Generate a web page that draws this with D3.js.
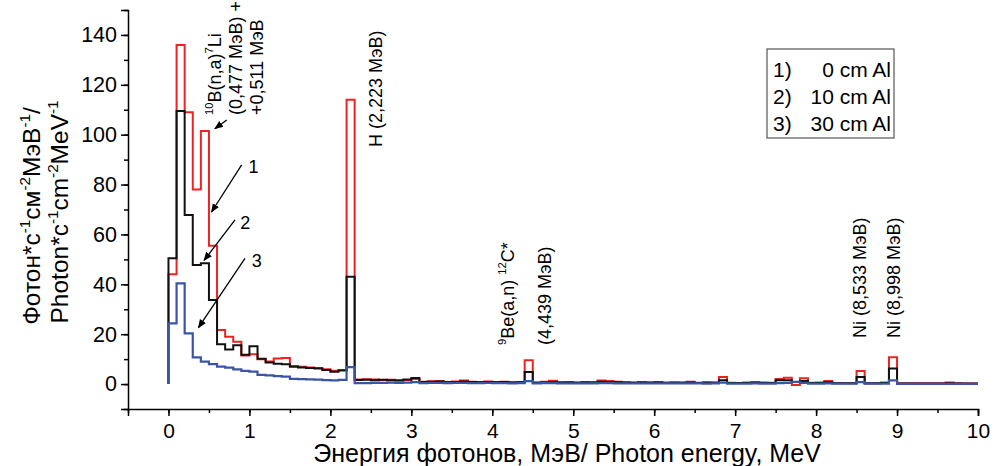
<!DOCTYPE html>
<html>
<head>
<meta charset="utf-8">
<script src="https://cdn.jsdelivr.net/npm/d3@7"></script>
<style>
  html, body { margin: 0; padding: 0; background: #fff; }
  svg { display: block; font-family: "Liberation Sans", Arial, sans-serif; }
</style>
</head>
<body>
<svg id="chart" width="1006" height="466"></svg>
<script>
// Gamma spectrum, 0.1 MeV bins from 0 to 10 MeV
const binWidth = 0.1;
const binCount = 100;

// 1) 0 cm Al
const al0 = [
  44, 136, 109, 78, 101.5, 55.5, 21.7, 19, 17, 11.5,
  12, 10, 9, 10.3, 10.5, 7.2, 6.9, 6.6, 6.4, 5.9,
  5.3, 5.6, 114, 1.8, 1.9, 1.8, 1.6, 1.7, 1.5, 1.6,
  2.0, 0.9, 1.1, 1.2, 0.8, 1.0, 1.4, 0.9, 0.8, 1.0,
  0.8, 0.9, 0.7, 0.8, 9.5, 0.6, 0.9, 1.3, 0.7, 0.8,
  0.6, 0.8, 0.7, 1.4, 1.2, 0.9, 0.7, 0.6, 0.8, 0.7,
  0.8, 0.5, 0.7, 0.6, 0.9, 0.5, 0.7, 0.6, 2.8, 0.5,
  0.4, 0.6, 0.8, 0.6, 0.5, 2.0, 2.5, -0.4, 2.3, 0.5,
  0.6, 1.2, 0.4, 0.4, 0.4, 5.2, 0.3, 0.3, 0.6, 10.8,
  0.3, 0.3, 0.3, 0.3, 0.3, 0.3, 0.6, 0.3, 0.2, 0.2
];
// 2) 10 cm Al
const al10 = [
  50.5, 109.5, 67.8, 47.7, 48.4, 33.7, 16, 13.9, 15.6, 11.8,
  15.2, 10.2, 8.6, 8.1, 7.9, 6.9, 6.6, 6.4, 6.2, 5.6,
  4.9, 5.4, 43, 1.6, 1.7, 1.5, 1.7, 1.5, 1.4, 1.8,
  2.4, 0.8, 0.9, 1.0, 0.7, 0.8, 1.0, 0.8, 0.7, 0.8,
  0.7, 0.8, 0.6, 0.7, 4.8, 0.5, 0.6, 0.8, 0.6, 0.6,
  0.5, 0.6, 0.6, 0.9, 0.8, 0.7, 0.6, 0.5, 0.6, 0.5,
  0.6, 0.5, 0.5, 0.5, 0.6, 0.4, 0.5, 0.5, 1.5, 0.4,
  0.4, 0.4, 0.5, 0.4, 0.4, 1.5, 1.5, 0.8, 1.2, 0.4,
  0.4, 0.7, 0.3, 0.3, 0.3, 2.8, 0.3, 0.3, 0.4, 6.2,
  0.2, 0.2, 0.2, 0.2, 0.2, 0.2, 0.3, 0.2, 0.2, 0.2
];
// 3) 30 cm Al
const al30 = [
  24.3, 40.4, 20.3, 10.7, 9.0, 8.0, 7.0, 6.6, 5.9, 5.3,
  5.0, 3.7, 3.5, 3.2, 3.0, 2.1, 2.0, 1.9, 1.8, 1.6,
  1.5, 1.7, 6.8, 0.4, 0.4, 0.5, 0.5, 0.6, 0.5, 0.6,
  0.8, 0.4, 0.5, 0.5, 0.4, 0.5, 0.5, 0.4, 0.4, 0.5,
  0.4, 0.4, 0.3, 0.4, 1.2, 0.3, 0.4, 0.4, 0.3, 0.3,
  0.3, 0.3, 0.3, 0.4, 0.4, 0.3, 0.3, 0.3, 0.3, 0.3,
  0.3, 0.3, 0.3, 0.3, 0.3, 0.3, 0.2, 0.3, 0.6, 0.2,
  0.2, 0.2, 0.3, 0.2, 0.2, 0.4, 0.5, 0.9, 0.5, 0.2,
  0.2, 0.3, 0.2, 0.2, 0.2, 0.8, 0.2, 0.2, 0.2, 1.5,
  0.1, 0.1, 0.1, 0.1, 0.1, 0.1, 0.1, 0.1, 0.1, 0.1
];

const seriesNames = ["1)", "2)", "3)"];
const seriesLabels = ["0 cm Al", "10 cm Al", "30 cm Al"];
const seriesColors = ["#ee2222", "#111111", "#3b55a6"];

const xTicks = [0, 1, 2, 3, 4, 5, 6, 7, 8, 9, 10];
const yTicks = [0, 20, 40, 60, 80, 100, 120, 140];

const svg = d3.select("#chart");
const margin = { left: 128, right: 28, top: 10, bottom: 57 };
const W = 1006, H = 466;

const x = d3.scaleLinear().domain([-0.5, 10]).range([margin.left, W - margin.right]);
const y = d3.scaleLinear().domain([-10, 150]).range([H - margin.bottom, margin.top]);

// arrowhead marker
svg.append("defs").append("marker")
  .attr("id", "arrow")
  .attr("viewBox", "0 0 10 10")
  .attr("refX", 9).attr("refY", 5)
  .attr("markerWidth", 9).attr("markerHeight", 9)
  .attr("markerUnits", "userSpaceOnUse")
  .attr("orient", "auto")
  .append("path").attr("d", "M0,1 L10,5 L0,9 Z").attr("fill", "#000");

// Step curves: start at zero at E=0, each bin is a flat segment
function stepPoints(vals) {
  const pts = [[0, 0]];
  vals.forEach((v, i) => pts.push([i * binWidth, v]));
  pts.push([binCount * binWidth, vals[vals.length - 1]]);
  return pts;
}
const line = d3.line()
  .x(d => x(d[0]))
  .y(d => y(d[1]))
  .curve(d3.curveStepAfter);

[al0, al10, al30].forEach((vals, k) => {
  svg.append("path")
    .attr("d", line(stepPoints(vals)))
    .attr("fill", "none")
    .attr("stroke", seriesColors[k])
    .attr("stroke-width", k === 2 ? 2.2 : 2)
    .attr("stroke-linejoin", "miter");
});

// Axes: minor ticks in their own groups, then the labelled major axis
const axisFont = "Liberation Sans, Arial, sans-serif";
const xBase = y(-10);
svg.append("g").attr("transform", `translate(0,${xBase})`)
  .call(d3.axisBottom(x).tickValues(d3.range(-0.5, 10.01, 0.5)).tickSize(4).tickFormat(""))
  .call(g => g.select(".domain").remove())
  .call(g => g.selectAll("text").remove())
  .call(g => g.selectAll("line").attr("stroke-width", 1.5));
const xAxisG = svg.append("g").attr("transform", `translate(0,${xBase})`)
  .call(d3.axisBottom(x).tickValues(xTicks).tickSize(7).tickPadding(7).tickFormat(d3.format("d")));
xAxisG.select(".domain").attr("stroke-width", 1.5);
xAxisG.selectAll("line").attr("stroke-width", 1.5);
xAxisG.selectAll("text").attr("font-size", 21).attr("font-family", axisFont).attr("fill", "#000");

const yBase = x(-0.5);
svg.append("g").attr("transform", `translate(${yBase},0)`)
  .call(d3.axisLeft(y).tickValues(d3.range(-10, 150.1, 10)).tickSize(4).tickFormat(""))
  .call(g => g.select(".domain").remove())
  .call(g => g.selectAll("text").remove())
  .call(g => g.selectAll("line").attr("stroke-width", 1.5));
const yAxisG = svg.append("g").attr("transform", `translate(${yBase},0)`)
  .call(d3.axisLeft(y).tickValues(yTicks).tickSize(7).tickPadding(4).tickFormat(d3.format("d")));
yAxisG.select(".domain").attr("stroke-width", 1.5);
yAxisG.selectAll("line").attr("stroke-width", 1.5);
yAxisG.selectAll("text").attr("font-size", 21.5).attr("font-family", axisFont).attr("fill", "#000");

// Axis titles
svg.append("text")
  .attr("x", 567).attr("y", 462)
  .attr("text-anchor", "middle").attr("font-size", 25)
  .text("Энергия фотонов, МэВ/ Photon energy, MeV");

// text with superscripts: each part is either plain text or a raised small piece
function richText(g, parts, size) {
  const t = g.append("text").attr("font-size", size);
  const rise = size * 0.42;
  let raised = false;
  parts.forEach(p => {
    const s = t.append("tspan");
    if (p.sup) {
      s.attr("font-size", size * 0.62).attr("dy", raised ? 0 : -rise).text(p.sup);
      raised = true;
    } else {
      s.attr("dy", raised ? rise : 0).text(p.t);
      raised = false;
    }
  });
  return t;
}

const yt1 = svg.append("g").attr("transform", `translate(40,216) rotate(-90)`);
richText(yt1, [{t: "Фотон*с"}, {sup: "-1"}, {t: "см"}, {sup: "-2"}, {t: "МэВ"}, {sup: "-1"}, {t: "/"}], 24.5)
  .attr("text-anchor", "middle");
const yt2 = svg.append("g").attr("transform", `translate(68,212) rotate(-90)`);
richText(yt2, [{t: "Photon*c"}, {sup: "-1"}, {t: "cm"}, {sup: "-2"}, {t: "MeV"}, {sup: "-1"}], 24.5)
  .attr("text-anchor", "middle");

// Peak annotations (rotated, reading upward)
const annFont = 18;
function vlabel(px, py, parts) {
  const g = svg.append("g").attr("transform", `translate(${px},${py}) rotate(-90)`);
  richText(g, parts, annFont).attr("text-anchor", "start");
}
vlabel(221, 115, [{sup: "10"}, {t: "B(n,a)"}, {sup: "7"}, {t: "Li"}]);
vlabel(242, 115, [{t: "(0,477 МэВ) +"}]);
vlabel(263, 115, [{t: "+0,511 МэВ"}]);
vlabel(382, 147, [{t: "H (2,223 МэВ)"}]);
vlabel(514, 345, [{sup: "9"}, {t: "Be(a,n) "}, {sup: "12"}, {t: "C*"}]);
vlabel(551, 345, [{t: "(4,439 МэВ)"}]);
vlabel(866, 338, [{t: "Ni (8,533 МэВ)"}]);
vlabel(900, 338, [{t: "Ni (8,998 МэВ)"}]);

// Arrows to curves
const arrows = [
  { from: [0.72, 105.9], to: [0.573, 102.4] },
  { from: [0.904, 87.9], to: [0.532, 69.0] },
  { from: [0.822, 65.8], to: [0.44, 49.6] },
  { from: [0.945, 50.4], to: [0.37, 22.6] }
];
arrows.forEach(a => {
  svg.append("line")
    .attr("x1", x(a.from[0])).attr("y1", y(a.from[1]))
    .attr("x2", x(a.to[0])).attr("y2", y(a.to[1]))
    .attr("stroke", "#000").attr("stroke-width", 1.3)
    .attr("marker-end", "url(#arrow)");
});
const arrowNums = [
  { n: "1", at: [1.05, 87.6] },
  { n: "2", at: [0.95, 64.8] },
  { n: "3", at: [1.09, 49.6] }
];
arrowNums.forEach(a => {
  svg.append("text")
    .attr("x", x(a.at[0])).attr("y", y(a.at[1]) + 7)
    .attr("text-anchor", "middle").attr("font-size", annFont)
    .text(a.n);
});

// Legend
const lg = svg.append("g");
lg.append("rect")
  .attr("x", 767).attr("y", 49).attr("width", 127).attr("height", 89)
  .attr("fill", "#fff").attr("stroke", "#555").attr("stroke-width", 1.2);
seriesNames.forEach((nm, i) => {
  lg.append("text").attr("x", 773).attr("y", 77 + i * 27).attr("font-size", 21).text(nm);
  lg.append("text").attr("x", 891).attr("y", 77 + i * 27).attr("font-size", 21)
    .attr("text-anchor", "end").text(seriesLabels[i]);
});
</script>
</body>
</html>
